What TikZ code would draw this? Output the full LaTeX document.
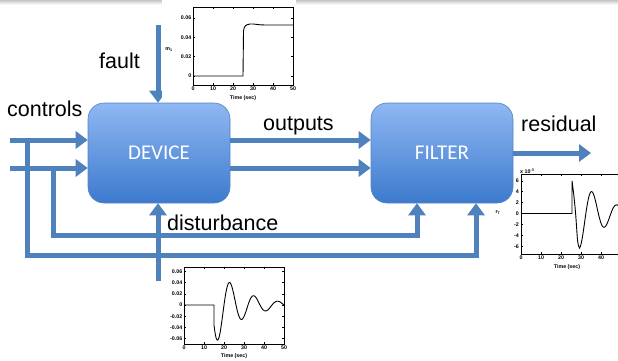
\documentclass[tikz,border=0pt]{standalone}
\usepackage{fontspec}
\setmainfont{Liberation Sans}
\newfontfamily\boxfont{Carlito}
\usetikzlibrary{arrows.meta}
\definecolor{flowblue}{RGB}{79,129,189}
\definecolor{boxtop}{RGB}{143,183,243}
\definecolor{boxbot}{RGB}{60,122,205}
\definecolor{boxedge}{RGB}{84,132,198}
\begin{document}
\begin{tikzpicture}[x=1pt,y=-1pt,
  flow/.style={draw=flowblue, line width=5pt, line join=miter,
    -{Triangle[length=12pt,width=17pt]}},
  block/.style={rounded corners=16pt, minimum width=142pt, minimum height=100pt,
    top color=boxtop, bottom color=boxbot, draw=boxedge, line width=0.6pt,
    text=white, font=\boxfont\fontsize{21}{25}\selectfont, inner sep=0pt},
  lab/.style={font=\fontsize{21.5}{26}\selectfont, inner sep=0pt, anchor=base west},
  frame/.style={draw=black, line width=0.6pt},
  curve/.style={draw=black, line width=0.9pt, line join=miter},
  tk/.style={font=\fontsize{5.3}{6}\selectfont\bfseries, inner sep=0.5pt},
]
% page and the thin grey band along its top edge
\fill[white] (0,0) rectangle (618,360);
\useasboundingbox (0,0) rectangle (618,360);
\shade[top color=gray!45, bottom color=gray!6] (0,0) rectangle (618,4);

% ---------- blocks ----------
\node[block] (dev) at (159,153) {DEVICE};
\node[block] (fil) at (442,153) {FILTER};

% ---------- free ends and corners of the signal lines ----------
\coordinate (c1) at (10,140);
\coordinate (c2) at (10,168);
\coordinate (j1) at (27,140);
\coordinate (j2) at (53,168);
\coordinate (k1) at (476,255);
\coordinate (k2) at (417,235);
\coordinate (fa) at (158,25);
\coordinate (di) at (158,281);
\coordinate (res) at (591,153);

% controls into the device
\draw[flow] (c1) -- (dev.west |- c1);
\draw[flow] (c2) -- (dev.west |- c2);
% controls branched to the filter
\draw[flow] (j1) |- (k1) -- (k1 |- fil.south);
\draw[flow] (j2) |- (k2) -- (k2 |- fil.south);
% device outputs into the filter
\draw[flow] (dev.east |- c1) -- (fil.west |- c1);
\draw[flow] (dev.east |- c2) -- (fil.west |- c2);
% fault, disturbance, residual
\draw[flow] (fa) -- (fa |- dev.north);
\draw[flow] (di) -- (di |- dev.south);
\draw[flow] (fil.east |- res) -- (res);

% ---------- labels ----------
\node[lab] (lcontrols) at (7,116) {controls};
\node[lab] (lfault) at (99,68) {fault};
\node[lab] (loutputs) at (263,130) {outputs};
\node[lab] (lresidual) at (521,131) {residual};
\node[lab] (ldist) at (167,230) {disturbance};

% ---------- fault signal m_1 ----------
\begin{scope}
  \clip (162,0) rectangle (296,102);
  \fill[white] (162,0) rectangle (296,102);
  \draw[frame] (193,7) rectangle (293,85);
  \foreach \v [count=\i] in {0,0.02,0.04,0.06} {
    \draw[frame] (193,{76-966.7*\v}) -- ++(2,0);
    \draw[frame] (293,{76-966.7*\v}) -- ++(-2,0);
    \node[tk,anchor=east] (fy\i) at (192,{76-966.7*\v}) {\v};
  }
  \foreach \t [count=\i] in {0,10,...,50} {
    \draw[frame] ({193+2*\t},85) -- ++(0,-2);
    \draw[frame] ({193+2*\t},7) -- ++(0,2);
    \node[tk,anchor=north] (fx\i) at ({193+2*\t},86.5) {\t};
  }
  \node[tk] (fxl) at (243,98) {Time (sec)};
  \node[tk] (fyl) at (169,50) {m\textsubscript{1}};
  \draw[curve] (193,76) -- (243,76) -- (243.5,31)
    .. controls (244,26) and (246,24.5) .. (250,24)
    .. controls (254,23.6) and (258,25) .. (265,25) -- (293,25);
\end{scope}

% ---------- disturbance signal ----------
\begin{scope}
  \draw[frame] (184,267) rectangle (284,344);
  \foreach \v [count=\i] in {0.06,0.04,0.02,0,-0.02,-0.04,-0.06} {
    \draw[frame] (184,{305-560*(\v)}) -- ++(2,0);
    \draw[frame] (284,{305-560*(\v)}) -- ++(-2,0);
    \node[tk,anchor=east] (dy\i) at (183,{305-560*(\v)}) {\v};
  }
  \foreach \t [count=\i] in {0,10,...,50} {
    \draw[frame] ({184+2*\t},344) -- ++(0,-2);
    \draw[frame] ({184+2*\t},267) -- ++(0,2);
    \node[tk,anchor=north] (dx\i) at ({184+2*\t},345.5) {\t};
  }
  \node[tk] (dxl) at (234,356) {Time (sec)};
  \draw[curve] (184,305) -- (214,305) --
    plot[domain=15:50, samples=140]
      ({184+2*\x}, {305+40.32*exp(-0.074*(\x-15))*sin(30*(\x-15)+30)});
\end{scope}

% ---------- residual signal r_T ----------
\begin{scope}
  \draw[frame] (521,174) rectangle (621,254);
  \foreach \v [count=\i] in {6,4,2,0,-2,-4,-6} {
    \draw[frame] (521,{213.5-5.45*(\v)}) -- ++(2,0);
    \node[tk,anchor=east] (ry\i) at (519.5,{213.5-5.45*(\v)}) {\v};
  }
  \foreach \t [count=\i] in {0,10,...,40} {
    \draw[frame] ({521+2*\t},254) -- ++(0,-2);
    \draw[frame] ({521+2*\t},174) -- ++(0,2);
    \node[tk,anchor=north] (rx\i) at ({521+2*\t},255.5) {\t};
  }
  \node[tk] (rxl) at (567,267) {Time (sec)};
  \node[tk,anchor=south west] (rsc) at (519.5,174) {x 10\textsuperscript{-3}};
  \node[tk] (ryl) at (498,213) {r\textsubscript{T}};
  \draw[curve] (521,213.5) -- (572,213.5) --
    plot[smooth] coordinates {(572,180.8) (573.8,195) (575.6,213.5)
      (577.4,238.6) (578.6,246.2) (579.6,247.8)} --
    plot[domain=29.3:50, samples=120]
      ({521+2*\x}, {213.5+34.34*exp(-0.074*(\x-29.3))*cos(28.8*(\x-29.3))});
\end{scope}
\end{tikzpicture}
\end{document}
